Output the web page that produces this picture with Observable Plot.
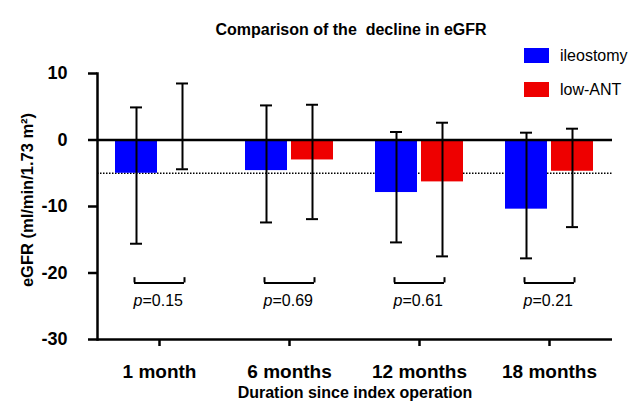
<!DOCTYPE html>
<html><head><meta charset="utf-8">
<script src="https://cdn.jsdelivr.net/npm/d3@7"></script>
<script src="https://cdn.jsdelivr.net/npm/@observablehq/plot@0.6"></script>
<style>
body{margin:0;background:#fff;font-family:"Liberation Sans",Arial,Helvetica,sans-serif;}
#wrap{position:relative;width:629px;height:404px;overflow:hidden;}
.leg{position:absolute;left:524px;height:15px;display:flex;align-items:center;font-size:16px;color:#000;white-space:nowrap;}
.sw{width:25px;height:15px;margin-right:11px;}
.ylab{position:absolute;left:27px;top:200px;transform:translate(-50%,-50%) rotate(-90deg);font-size:16.5px;font-weight:bold;white-space:nowrap;line-height:1;color:#000;}
</style></head><body><div id="wrap"></div>
<script>
const months = ["1 month", "6 months", "12 months", "18 months"];
const seriesNames = ["ileostomy", "low-ANT"];
const seriesColors = ["#0000ff", "#ee0000"];
const ileoMean = [-5.0, -4.6, -7.9, -10.4];
const ileoLow  = [-15.6, -12.4, -15.4, -17.8];
const ileoHigh = [4.9, 5.2, 1.2, 1.1];
const antMean  = [null, -3.0, -6.3, -4.7];
const antLow   = [-4.4, -11.9, -17.5, -13.1];
const antHigh  = [8.5, 5.3, 2.6, 1.7];
const pValues  = ["0.15", "0.69", "0.61", "0.21"];
const refLine = -5;
const yTicks = [10, 0, -10, -20, -30];
const bracketY = -21.5, bracketTop = -20.7, pTextY = -24.2;
const title = "Comparison of the  decline in eGFR";
const xLabel = "Duration since index operation";
const yLabel = "eGFR (ml/min/1.73 m²)";

const ileo = months.map((m, i) => ({month: m, mean: ileoMean[i], low: ileoLow[i], high: ileoHigh[i]}));
const ant = months.map((m, i) => ({month: m, mean: antMean[i], low: antLow[i], high: antHigh[i]}));
const pRows = months.map((m, i) => ({month: m, p: pValues[i]}));

const font = '"Liberation Sans", Arial, Helvetica, sans-serif';

const chart = Plot.plot({
  width: 629, height: 404,
  marginLeft: 97, marginRight: 17, marginTop: 73, marginBottom: 65,
  style: {fontFamily: font, color: "#000", background: "#fff", overflow: "visible"},
  x: {type: "band", domain: months, range: [93, 614], padding: 0},
  y: {domain: [-30, 10]},
  marks: [
    Plot.ruleY([refLine], {stroke: "#000", strokeWidth: 1.5, strokeDasharray: "1.5,1.5"}),
    Plot.barY(ileo, {x: "month", y: "mean", fill: seriesColors[0], insetLeft: 21, insetRight: 67}),
    Plot.barY(ant, {x: "month", y: "mean", fill: seriesColors[1], insetLeft: 67, insetRight: 21}),
    Plot.ruleY([0], {stroke: "#000", strokeWidth: 2.5}),
    Plot.ruleX(ileo, {x: "month", y1: "low", y2: "high", dx: -23, stroke: "#000", strokeWidth: 2}),
    Plot.ruleX(ant, {x: "month", y1: "low", y2: "high", dx: 23, stroke: "#000", strokeWidth: 2}),
    Plot.tickY(ileo, {x: "month", y: "high", insetLeft: 36, insetRight: 82, strokeWidth: 2}),
    Plot.tickY(ileo, {x: "month", y: "low", insetLeft: 36, insetRight: 82, strokeWidth: 2}),
    Plot.tickY(ant, {x: "month", y: "high", insetLeft: 82, insetRight: 36, strokeWidth: 2}),
    Plot.tickY(ant, {x: "month", y: "low", insetLeft: 82, insetRight: 36, strokeWidth: 2}),
    Plot.tickY(pRows, {x: "month", y: () => bracketY, insetLeft: 40, insetRight: 40, strokeWidth: 2}),
    Plot.ruleX(pRows, {x: "month", y1: () => bracketY, y2: () => bracketTop, dx: -25, strokeWidth: 2}),
    Plot.ruleX(pRows, {x: "month", y1: () => bracketY, y2: () => bracketTop, dx: 25, strokeWidth: 2}),
    Plot.text(pRows, {x: "month", y: () => pTextY, text: () => "p", fontStyle: "italic", textAnchor: "end", dx: -17, fontSize: 16}),
    Plot.text(pRows, {x: "month", y: () => pTextY, text: d => "=" + d.p, textAnchor: "start", dx: -17, fontSize: 16}),
    Plot.ruleY([-30], {stroke: "#000", strokeWidth: 2.5}),
    Plot.frame({anchor: "left", stroke: "#000", strokeWidth: 2.5}),
    Plot.axisY({ticks: yTicks, tickFormat: d => d, tickSize: 9, tickPadding: 21, fontSize: 18, fontWeight: "bold", strokeWidth: 2.5, label: null}),
    Plot.axisX({tickSize: 7, tickPadding: 18, fontSize: 19, fontWeight: "bold", strokeWidth: 2.5, label: null}),
    Plot.text([xLabel], {frameAnchor: "bottom", dy: 58, fontSize: 16, fontWeight: "bold"}),
    Plot.text([title], {frameAnchor: "top", dy: -50, dx: -4, fontSize: 16, fontWeight: "bold"})
  ]
});
const wrap = document.getElementById("wrap");
wrap.appendChild(chart);
const yl = document.createElement("div");
yl.className = "ylab";
yl.textContent = yLabel;
wrap.appendChild(yl);
[48, 82].forEach((top, i) => {
  const d = document.createElement("div");
  d.className = "leg";
  d.style.top = top + "px";
  const s = document.createElement("span");
  s.className = "sw";
  s.style.background = seriesColors[i];
  d.appendChild(s);
  d.appendChild(document.createTextNode(seriesNames[i]));
  wrap.appendChild(d);
});
</script></body></html>
